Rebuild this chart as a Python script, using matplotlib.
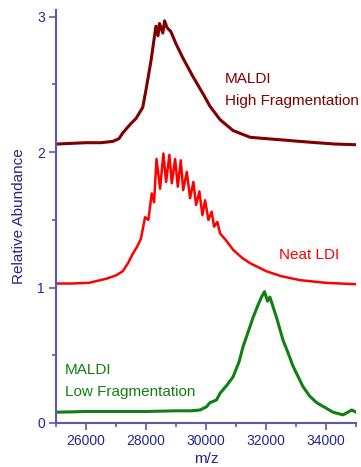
import matplotlib
matplotlib.use("Agg")
import matplotlib.pyplot as plt
from matplotlib.ticker import MultipleLocator, FixedLocator

plt.rcParams['font.family'] = ['Liberation Sans', 'DejaVu Sans']

# MALDI High Fragmentation (offset +2)
high_mz = [25000, 25500, 26000, 26500, 26900, 27100, 27220, 27450, 27670, 27890,
           28000, 28170, 28330, 28400, 28450, 28560, 28620, 28700, 28830, 29000,
           29220, 29560, 29930, 30130, 30470, 30900, 31470, 32000, 32570, 33100,
           33690, 34300, 35000]
high_val = [2.06, 2.065, 2.07, 2.07, 2.08, 2.10, 2.14, 2.20, 2.25, 2.33,
            2.46, 2.68, 2.93, 2.86, 2.95, 2.88, 2.97, 2.92, 2.89, 2.80,
            2.70, 2.56, 2.42, 2.34, 2.24, 2.16, 2.11, 2.10, 2.09, 2.08,
            2.07, 2.06, 2.055]

# Neat LDI (offset +1)
ldi_mz = [25000, 25500, 26100, 26670, 27000, 27220, 27400, 27560, 27700, 27830,
          27970, 28080, 28190, 28270, 28350, 28470, 28580, 28670, 28780, 28860,
          28970, 29060, 29160, 29240, 29360, 29470, 29580, 29670, 29780, 29880,
          29970, 30080, 30190, 30270, 30380, 30470, 30700, 30900, 31200, 31470,
          32020, 32500, 33130, 34000, 35000]
ldi_val = [1.03, 1.03, 1.035, 1.065, 1.09, 1.12, 1.18, 1.25, 1.30, 1.36,
           1.52, 1.50, 1.695, 1.63, 1.95, 1.73, 1.99, 1.78, 1.98, 1.77,
           1.95, 1.745, 1.94, 1.72, 1.855, 1.66, 1.78, 1.61, 1.71, 1.535,
           1.645, 1.50, 1.56, 1.45, 1.485, 1.40, 1.34, 1.28, 1.22, 1.18,
           1.12, 1.085, 1.055, 1.035, 1.025]

# MALDI Low Fragmentation (offset 0)
low_mz = [25000, 25500, 26000, 27000, 28000, 29000, 29500, 29800, 30020, 30130,
          30350, 30470, 30700, 30900, 31100, 31230, 31400, 31570, 31750, 31850,
          31950, 32050, 32130, 32350, 32570, 32750, 32900, 33230, 33450, 33690,
          34000, 34230, 34570, 34860, 35000]
low_val = [0.08, 0.082, 0.085, 0.085, 0.085, 0.09, 0.09, 0.096, 0.12, 0.15,
           0.17, 0.22, 0.28, 0.34, 0.45, 0.56, 0.67, 0.78, 0.88, 0.93,
           0.97, 0.90, 0.93, 0.78, 0.61, 0.51, 0.42, 0.27, 0.20, 0.15,
           0.11, 0.08, 0.06, 0.096, 0.08]

x_ticks = [26000, 28000, 30000, 32000, 34000]
y_ticks = [0, 1, 2, 3]

col_high = '#800000'
col_ldi = '#ff0000'
col_low = '#108010'
axis_col = '#5a5aaa'
label_col = '#26268c'

fig = plt.figure(figsize=(3.61, 4.67), dpi=100)
ax = fig.add_axes([56/361, 1-423/467, 300/361, 413/467])

ax.plot(high_mz, high_val, color=col_high, lw=2.2)
ax.plot(ldi_mz, ldi_val, color=col_ldi, lw=1.8)
ax.plot(low_mz, low_val, color=col_low, lw=2.2)

ax.set_xlim(25000, 35000)
ax.set_ylim(0, 3.05)
ax.xaxis.set_major_locator(FixedLocator(x_ticks))
ax.xaxis.set_minor_locator(MultipleLocator(1000))
ax.yaxis.set_major_locator(FixedLocator(y_ticks))
ax.yaxis.set_minor_locator(MultipleLocator(0.5))

for s in ['top', 'right']:
    ax.spines[s].set_visible(False)
for s in ['left', 'bottom']:
    ax.spines[s].set_color(axis_col)
    ax.spines[s].set_linewidth(1.5)

ax.tick_params(which='both', direction='out', color=axis_col, width=1.2,
               labelcolor=label_col, labelsize=10)
ax.tick_params(which='major', length=5, pad=3)
ax.tick_params(which='minor', length=3)

ax.set_xticklabels([str(v) for v in x_ticks])
ax.set_yticklabels([str(v) for v in y_ticks])

ax.set_ylabel('Relative Abundance', color=label_col, fontsize=11, labelpad=8)
ax.set_xlabel('m/z', color=label_col, fontsize=11, labelpad=3)

fig.text(225/361, 1-83/467, 'MALDI', color=col_high, fontsize=11)
fig.text(225/361, 1-105/467, 'High Fragmentation', color=col_high, fontsize=11)
fig.text(279/361, 1-259/467, 'Neat LDI', color=col_ldi, fontsize=11)
fig.text(65/361, 1-374/467, 'MALDI', color=col_low, fontsize=11)
fig.text(65/361, 1-396/467, 'Low Fragmentation', color=col_low, fontsize=11)

fig.savefig('out.png', dpi=100)
